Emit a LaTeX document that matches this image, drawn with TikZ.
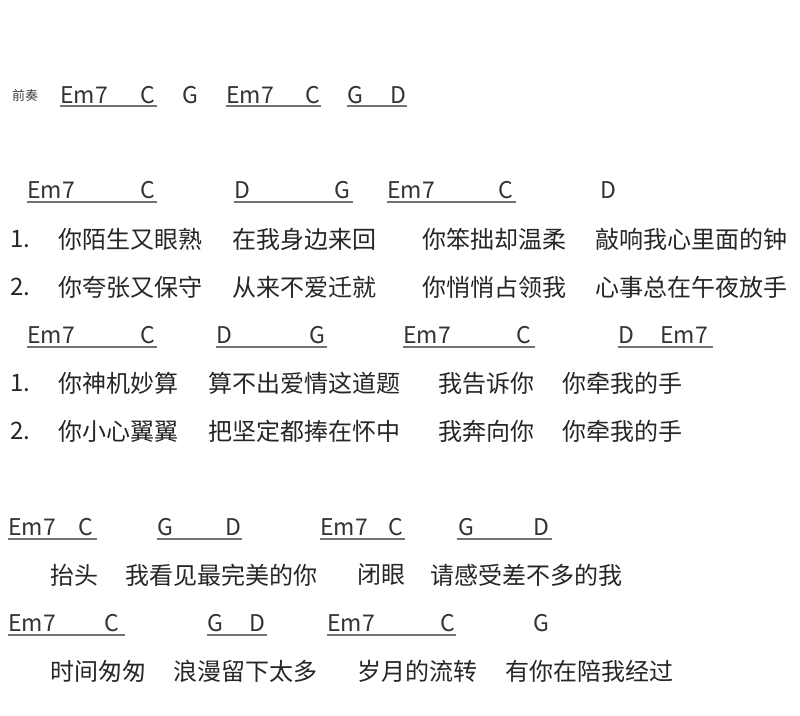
\documentclass[tikz,border=0pt]{standalone}
\usepackage{fontspec}
\setmainfont{Noto Sans CJK SC}
\begin{document}
\begin{tikzpicture}[x=1pt,y=-1pt,
  chord/.style={anchor=west,inner sep=0,text=black!80,font=\fontsize{23}{23}\selectfont},
  lyric/.style={anchor=west,inner sep=0,text=black!85,font=\fontsize{24}{24}\selectfont},
  uline/.style={draw=black!55,line width=1.6pt}]
\useasboundingbox[fill=white] (0,0) rectangle (800,715);
% intro
\node[anchor=west,inner sep=0,text=black!75,font=\fontsize{13}{13}\selectfont] (intro) at (12,96) {前奏};
\foreach \n/\x/\c in {a1/60/Em7,a2/140/C,a3/182/G,a4/226/Em7,a5/305/C,a6/347/G,a7/390/D}
  \node[chord] (\n) at (\x,95) {\c};
\foreach \a/\b in {60/157,226/321,347/407}
  \draw[uline] (\a,106) -- (\b,106);
% verse chords 1
\foreach \n/\x/\c in {b1/27/Em7,b2/140/C,b3/234/D,b4/334/G,b5/387/Em7,b6/498/C,b7/600/D}
  \node[chord] (\n) at (\x,190) {\c};
\foreach \a/\b in {27/157,234/353,387/516}
  \draw[uline] (\a,202) -- (\b,202);
% verse lyrics
\foreach \n/\x/\t in {l1/10/1.,l2/58/你陌生又眼熟,l3/232/在我身边来回,l4/422/你笨拙却温柔,l5/595/敲响我心里面的钟}
  \node[lyric] (\n) at (\x,239) {\t};
\foreach \n/\x/\t in {m1/10/2.,m2/58/你夸张又保守,m3/232/从来不爱迁就,m4/422/你悄悄占领我,m5/595/心事总在午夜放手}
  \node[lyric] (\n) at (\x,287) {\t};
% verse chords 2
\foreach \n/\x/\c in {d1/27/Em7,d2/140/C,d3/216/D,d4/309/G,d5/403/Em7,d6/516/C,d7/618/D,d8/660/Em7}
  \node[chord] (\n) at (\x,335) {\c};
\foreach \a/\b in {27/157,216/327,403/535,618/713}
  \draw[uline] (\a,347) -- (\b,347);
\foreach \n/\x/\t in {p1/10/1.,p2/58/你神机妙算,p3/208/算不出爱情这道题,p4/438/我告诉你,p5/562/你牵我的手}
  \node[lyric] (\n) at (\x,383) {\t};
\foreach \n/\x/\t in {q1/10/2.,q2/58/你小心翼翼,q3/208/把坚定都捧在怀中,q4/438/我奔向你,q5/562/你牵我的手}
  \node[lyric] (\n) at (\x,431) {\t};
% chorus
\foreach \n/\x/\c in {e1/8/Em7,e2/78/C,e3/157/G,e4/225/D,e5/320/Em7,e6/388/C,e7/458/G,e8/533/D}
  \node[chord] (\n) at (\x,527) {\c};
\foreach \a/\b in {8/97,157/242,320/405,457/552}
  \draw[uline] (\a,539) -- (\b,539);
\foreach \n/\x/\t in {r1/50/抬头,r2/125/我看见最完美的你,r3/357/闭眼,r4/430/请感受差不多的我}
  \node[lyric] (\n) at (\x,575) {\t};
\foreach \n/\x/\c in {f1/8/Em7,f2/104/C,f3/207/G,f4/249/D,f5/327/Em7,f6/440/C,f7/533/G}
  \node[chord] (\n) at (\x,623) {\c};
\foreach \a/\b in {8/125,207/267,327/456}
  \draw[uline] (\a,635) -- (\b,635);
\foreach \n/\x/\t in {s1/50/时间匆匆,s2/173/浪漫留下太多,s3/357/岁月的流转,s4/505/有你在陪我经过}
  \node[lyric] (\n) at (\x,671) {\t};
\end{tikzpicture}
\end{document}
